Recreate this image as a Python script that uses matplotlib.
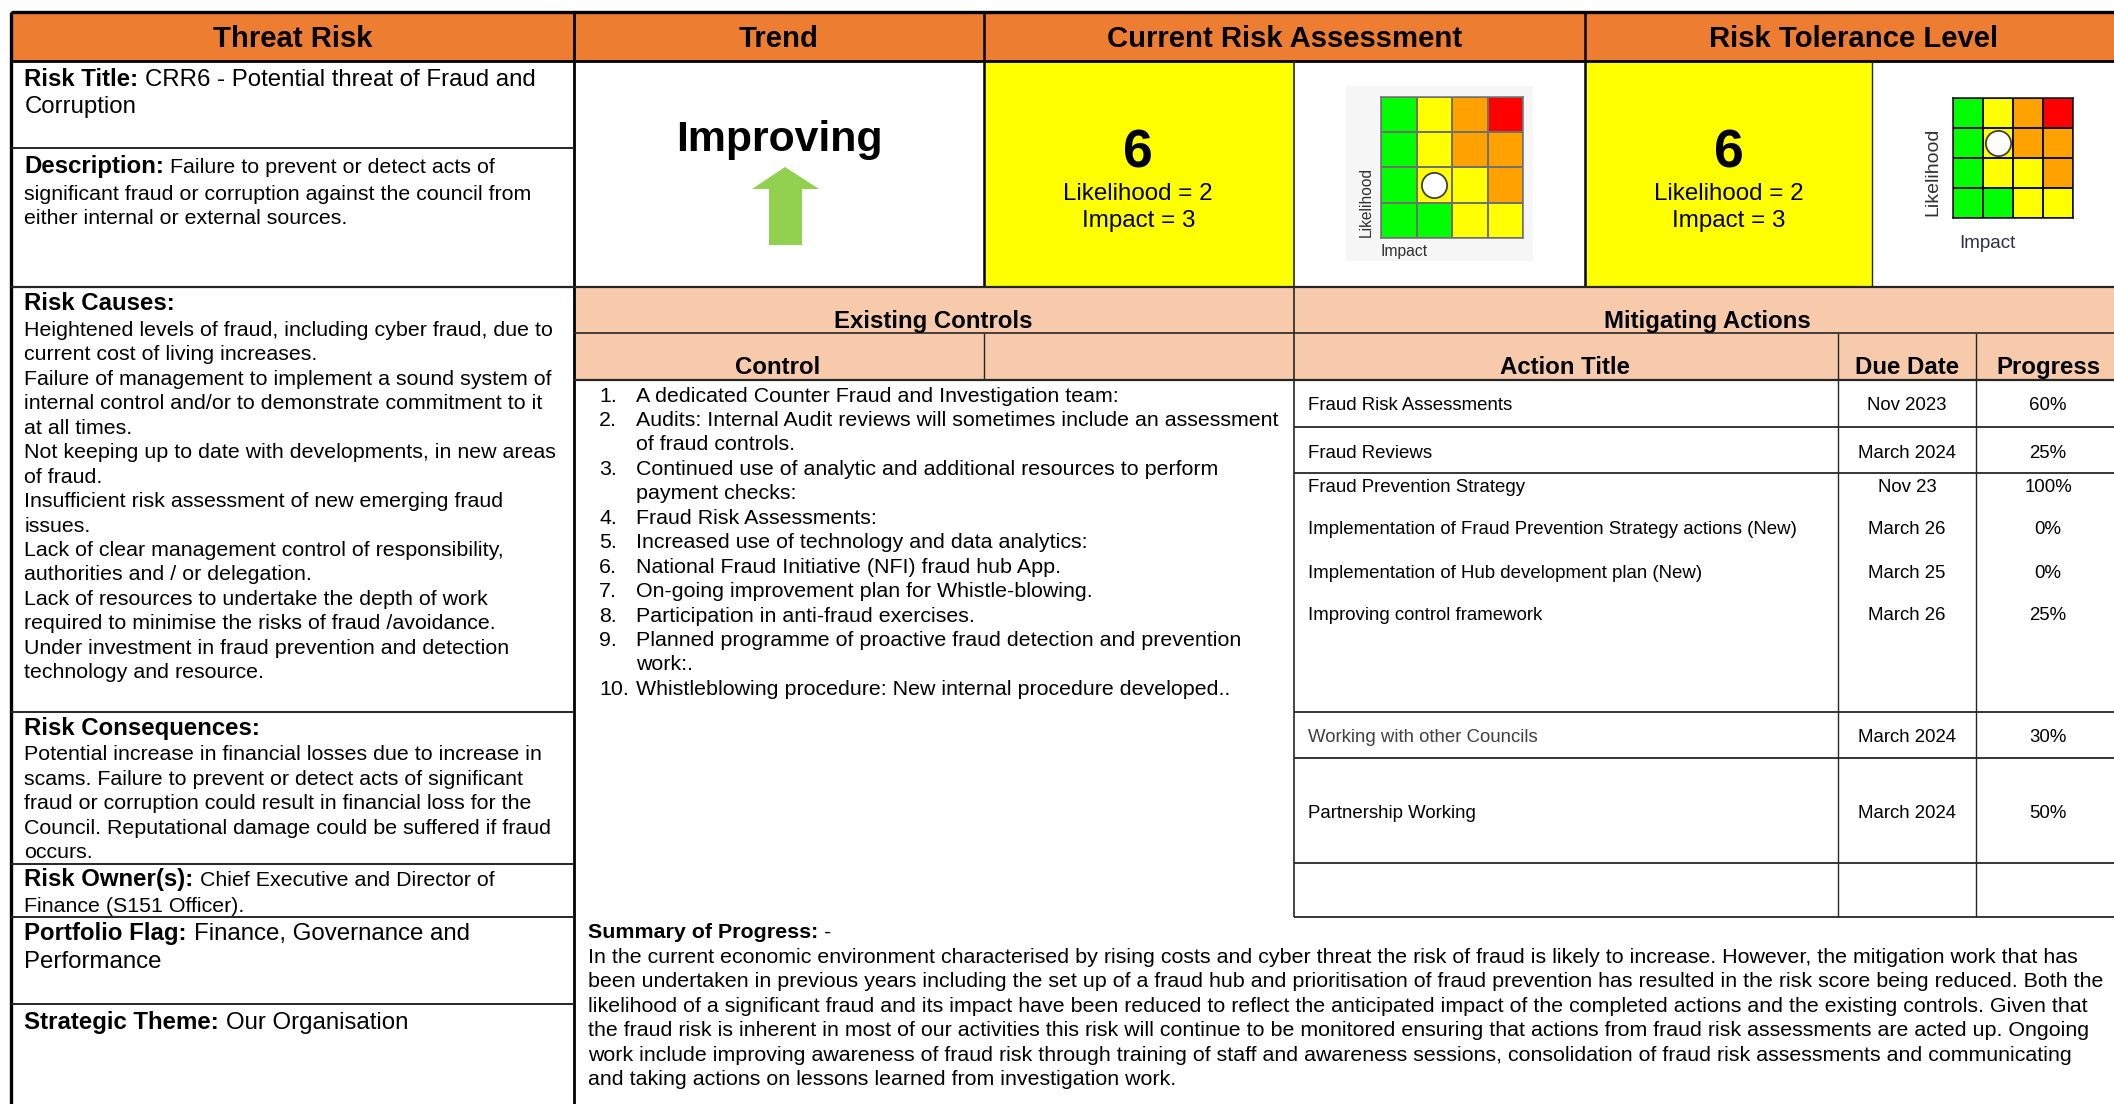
"""Threat risk summary sheet drawn as a table on one full-figure axes.

The axes runs in pixels of the output image, y pointing down.
"""

import matplotlib
matplotlib.use("Agg")
import matplotlib.pyplot as plt
import numpy as np
from matplotlib.colors import ListedColormap
from matplotlib.patches import Polygon, Rectangle

plt.rcParams["font.family"] = ["Liberation Sans", "DejaVu Sans"]

WIDTH, HEIGHT = 2114, 1104

# ---------------------------------------------------------------------------
# Data
# ---------------------------------------------------------------------------

HEADERS = ["Threat Risk", "Trend", "Current Risk Assessment", "Risk Tolerance Level"]
TREND = "Improving"

SCORE = 6
LIKELIHOOD = 2
IMPACT = 3

# 0 green, 1 yellow, 2 orange, 3 red; top row is the highest likelihood
MATRIX_LEVELS = [
    [0, 1, 2, 3],
    [0, 1, 2, 2],
    [0, 1, 1, 2],
    [0, 0, 1, 1],
]
MATRIX_COLOURS = ["#00FF00", "#FFFF00", "#FFA200", "#FF0000"]

# matrix cell (row, column) holding the white marker
CURRENT_CELL = (2, 1)
TOLERANCE_CELL = (1, 1)

RISK_TITLE = ["CRR6 - Potential threat of Fraud and", "Corruption"]
DESCRIPTION = [
    "Failure to prevent or detect acts of",
    "significant fraud or corruption against the council from",
    "either internal or external sources.",
]
RISK_CAUSES = [
    "Heightened levels of fraud, including cyber fraud, due to",
    "current cost of living increases.",
    "Failure of management to implement a sound system of",
    "internal control and/or to demonstrate commitment to it",
    "at all times.",
    "Not keeping up to date with developments, in new areas",
    "of fraud.",
    "Insufficient risk assessment of new emerging fraud",
    "issues.",
    "Lack of clear management control of responsibility,",
    "authorities and / or delegation.",
    "Lack of resources to undertake the depth of work",
    "required to minimise the risks of fraud /avoidance.",
    "Under investment in fraud prevention and detection",
    "technology and resource.",
]
RISK_CONSEQUENCES = [
    "Potential increase in financial losses due to increase in",
    "scams. Failure to prevent or detect acts of significant",
    "fraud or corruption could result in financial loss for the",
    "Council. Reputational damage could be suffered if fraud",
    "occurs.",
]
RISK_OWNERS = ["Chief Executive and Director of", "Finance (S151 Officer)."]
PORTFOLIO_FLAG = ["Finance, Governance and", "Performance"]
STRATEGIC_THEME = "Our Organisation"

CONTROLS = [
    ("1.", "A dedicated Counter Fraud and Investigation team:"),
    ("2.", "Audits: Internal Audit reviews will sometimes include an assessment"),
    ("", "of fraud controls."),
    ("3.", "Continued use of analytic and additional resources to perform"),
    ("", "payment checks:"),
    ("4.", "Fraud Risk Assessments:"),
    ("5.", "Increased use of technology and data analytics:"),
    ("6.", "National Fraud Initiative (NFI) fraud hub App."),
    ("7.", "On-going improvement plan for Whistle-blowing."),
    ("8.", "Participation in anti-fraud exercises."),
    ("9.", "Planned programme of proactive fraud detection and prevention"),
    ("", "work:."),
    ("10.", "Whistleblowing procedure: New internal procedure developed.."),
]

ACTION_TITLES = [
    "Fraud Risk Assessments",
    "Fraud Reviews",
    "Fraud Prevention Strategy",
    "Implementation of Fraud Prevention Strategy actions (New)",
    "Implementation of Hub development plan (New)",
    "Improving control framework",
    "Working with other Councils",
    "Partnership Working",
]
ACTION_DUE = [
    "Nov 2023", "March 2024", "Nov 23", "March 26",
    "March 25", "March 26", "March 2024", "March 2024",
]
ACTION_PROGRESS = [60, 25, 100, 0, 0, 25, 30, 50]

SUMMARY = [
    "In the current economic environment characterised by rising costs and cyber threat the risk of fraud is likely to increase. However, the mitigation work that has",
    "been undertaken in previous years including the set up of a fraud hub and prioritisation of fraud prevention has resulted in the risk score being reduced. Both the",
    "likelihood of a significant fraud and its impact have been reduced to reflect the anticipated impact of the completed actions and the existing controls. Given that",
    "the fraud risk is inherent in most of our activities this risk will continue to be monitored ensuring that actions from fraud risk assessments are acted up. Ongoing",
    "work include improving awareness of fraud risk through training of staff and awareness sessions, consolidation of fraud risk assessments and communicating",
    "and taking actions on lessons learned from investigation work.",
]

# ---------------------------------------------------------------------------
# Layout (pixels) and styles
# ---------------------------------------------------------------------------

LEFT, COL1, COL2, COL3, COL4, COL5 = 11, 574, 984, 1293.5, 1585, 1872
DUE_X, PROGRESS_X = 1838, 1976
TOP, HEAD_BOTTOM, MID, PEACH_MID, PEACH_BOTTOM = 12, 60.5, 286.5, 333, 380
ACTION_ROW_LINES = [427, 473, 712, 758, 863, 917]
ACTION_BASELINES = [409, 457, 491, 533, 577, 620, 742, 818]

ORANGE = "#ED7D31"
PEACH = "#F7CAAC"
YELLOW = "#FFFF00"
ARROW_GREEN = "#92D050"
DARK = "#262626"

FS_HEADER = 21.1
FS_SUB = 17.3
FS_SCORE = 17.4
FS_LARGE = 17.3
FS_LABEL = 17.3
FS_BODY = 15.4
FS_ACTION = 13.45
LEADING = 24.45


def rich_line(ax, x, y, bold, regular, size, bold_size=None):
    """Draw a bold label and carry on with regular text on the same baseline."""
    label = ax.text(x, y, bold, fontsize=bold_size or size, fontweight="bold",
                    va="baseline", color="black")
    box = label.get_window_extent(ax.figure.canvas.get_renderer())
    ax.text(box.x1 + size * 0.38, y, regular, fontsize=size, va="baseline",
            color="black")


def body_lines(ax, x, y, lines, size=FS_BODY, leading=LEADING):
    for i, line in enumerate(lines):
        ax.text(x, y + i * leading, line, fontsize=size, va="baseline",
                color="black")


def draw_matrix(ax, bounds, cell, line_colour):
    """Risk matrix in its own inset axes; bounds are pixels (x0, y0, x1, y1)."""
    x0, y0, x1, y1 = bounds
    inset = ax.figure.add_axes(
        [x0 / WIDTH, 1 - y1 / HEIGHT, (x1 - x0) / WIDTH, (y1 - y0) / HEIGHT])
    levels = np.array(MATRIX_LEVELS)
    inset.pcolormesh(levels, cmap=ListedColormap(MATRIX_COLOURS), vmin=0, vmax=3,
                     edgecolors=line_colour, linewidth=1.1)
    inset.set_ylim(len(levels), 0)
    inset.set_xticks([])
    inset.set_yticks([])
    for spine in inset.spines.values():
        spine.set_color(line_colour)
        spine.set_linewidth(1.1)
    inset.scatter([cell[1] + 0.5], [cell[0] + 0.5], s=330, c="white",
                  edgecolors="#404040", linewidths=1.3, zorder=5)
    return inset


def main():
    fig = plt.figure(figsize=(WIDTH / 100, HEIGHT / 100), dpi=100, facecolor="white")
    ax = fig.add_axes([0, 0, 1, 1])
    ax.set_xlim(0, WIDTH)
    ax.set_ylim(HEIGHT, 0)
    ax.axis("off")

    # Fills
    ax.add_patch(Rectangle((LEFT, TOP), WIDTH - LEFT, HEAD_BOTTOM - TOP, fc=ORANGE, ec="none"))
    ax.add_patch(Rectangle((COL2, HEAD_BOTTOM), COL3 - COL2, MID - HEAD_BOTTOM, fc=YELLOW, ec="none"))
    ax.add_patch(Rectangle((COL4, HEAD_BOTTOM), COL5 - COL4, MID - HEAD_BOTTOM, fc=YELLOW, ec="none"))
    ax.add_patch(Rectangle((COL1, MID), WIDTH - COL1, PEACH_BOTTOM - MID, fc=PEACH, ec="none"))

    # Grid lines
    ax.hlines([TOP], LEFT, WIDTH, colors="black", linewidth=2.4)
    ax.hlines([HEAD_BOTTOM], LEFT, WIDTH, colors="black", linewidth=2.0)
    ax.vlines([LEFT], TOP, HEIGHT, colors="black", linewidth=2.4)
    ax.vlines([COL1], TOP, HEIGHT, colors="black", linewidth=2.0)
    ax.vlines([COL2, COL4], TOP, MID, colors="black", linewidth=1.8)
    ax.vlines([COL3], HEAD_BOTTOM, ACTION_ROW_LINES[-1], colors=DARK, linewidth=1.2)
    ax.vlines([COL5], HEAD_BOTTOM, MID, colors=DARK, linewidth=1.0)
    ax.vlines([COL2], PEACH_MID, PEACH_BOTTOM, colors=DARK, linewidth=1.0)
    ax.vlines([DUE_X, PROGRESS_X], PEACH_MID, ACTION_ROW_LINES[-1], colors=DARK, linewidth=1.0)
    ax.hlines([MID], LEFT, WIDTH, colors=DARK, linewidth=1.6)
    ax.hlines([PEACH_MID], COL1, WIDTH, colors=DARK, linewidth=1.2)
    ax.hlines([PEACH_BOTTOM], COL1, WIDTH, colors=DARK, linewidth=1.6)
    ax.hlines(ACTION_ROW_LINES, COL3, WIDTH, colors=DARK, linewidth=1.3)
    ax.hlines([148, 712, 863.5, 917, 1004], LEFT, COL1, colors=DARK, linewidth=1.4)

    # Top headers
    header_x = [(LEFT + COL1) / 2, (COL1 + COL2) / 2, (COL2 + COL4) / 2, 1854]
    for x, label in zip(header_x, HEADERS):
        ax.text(x, 47, label, fontsize=FS_HEADER, fontweight="bold", ha="center", va="baseline")

    # Left column
    text_x = 24.5
    rich_line(ax, text_x, 86, "Risk Title:", RISK_TITLE[0], FS_LARGE)
    body_lines(ax, text_x, 113, RISK_TITLE[1:], FS_LARGE)
    rich_line(ax, text_x, 173, "Description:", DESCRIPTION[0], FS_BODY, FS_LABEL)
    body_lines(ax, text_x, 200, DESCRIPTION[1:], FS_BODY)
    ax.text(text_x, 310, "Risk Causes:", fontsize=FS_LABEL, fontweight="bold", va="baseline")
    body_lines(ax, text_x, 336, RISK_CAUSES)
    ax.text(text_x, 735, "Risk Consequences:", fontsize=FS_LABEL, fontweight="bold", va="baseline")
    body_lines(ax, text_x, 760.5, RISK_CONSEQUENCES)
    rich_line(ax, text_x, 886, "Risk Owner(s):", RISK_OWNERS[0], FS_BODY, FS_LABEL)
    body_lines(ax, text_x, 912, RISK_OWNERS[1:], FS_BODY)
    rich_line(ax, text_x, 940, "Portfolio Flag:", PORTFOLIO_FLAG[0], FS_LARGE)
    body_lines(ax, text_x, 968, PORTFOLIO_FLAG[1:], FS_LARGE)
    rich_line(ax, text_x, 1029, "Strategic Theme:", STRATEGIC_THEME, FS_LARGE)

    # Trend cell
    centre = (COL1 + COL2) / 2
    ax.text(centre, 151.5, TREND, fontsize=30.8, fontweight="bold", ha="center", va="baseline")
    ax.add_patch(Polygon(
        [(785, 167), (819, 189), (802, 189), (802, 245), (769, 245), (769, 189), (752, 189)],
        closed=True, fc=ARROW_GREEN, ec="none"))

    # Score cells
    for x in [(COL2 + COL3) / 2 - 0.5, (COL4 + COL5) / 2]:
        ax.text(x, 167, str(SCORE), fontsize=38.5, fontweight="bold", ha="center", va="baseline")
        ax.text(x, 200.5, f"Likelihood = {LIKELIHOOD}", fontsize=FS_SCORE, ha="center", va="baseline")
        ax.text(x, 227.5, f"Impact = {IMPACT}", fontsize=FS_SCORE, ha="center", va="baseline")

    # Matrices
    ax.add_patch(Rectangle((1346, 86), 187, 175, fc="#F6F6F6", ec="none"))
    draw_matrix(ax, (1381, 97, 1523, 238), CURRENT_CELL, "#707070")
    ax.text(1366, 202, "Likelihood", fontsize=11.2, rotation=90, ha="center", va="center", color="#303030")
    ax.text(1381, 256, "Impact", fontsize=11.3, ha="left", va="baseline", color="#303030")
    draw_matrix(ax, (1953, 98, 2073, 218), TOLERANCE_CELL, "#101010")
    ax.text(1933, 172, "Likelihood", fontsize=14, rotation=90, ha="center", va="center", color="#303030")
    ax.text(1987.5, 248, "Impact", fontsize=13.6, ha="center", va="baseline", color="#303040")

    # Controls
    ax.text(933, 328, "Existing Controls", fontsize=FS_SUB, fontweight="bold", ha="center", va="baseline")
    ax.text(778, 374, "Control", fontsize=FS_SUB, fontweight="bold", ha="center", va="baseline")
    for i, (number, line) in enumerate(CONTROLS):
        y = 401.5 + i * LEADING
        ax.text(599, y, number, fontsize=FS_BODY, va="baseline")
        ax.text(636, y, line, fontsize=FS_BODY, va="baseline")

    # Mitigating actions
    ax.text(1707, 328, "Mitigating Actions", fontsize=FS_SUB, fontweight="bold", ha="center", va="baseline")
    ax.text(1565, 374, "Action Title", fontsize=FS_SUB, fontweight="bold", ha="center", va="baseline")
    ax.text(1907, 374, "Due Date", fontsize=FS_SUB, fontweight="bold", ha="center", va="baseline")
    ax.text(2048, 374, "Progress", fontsize=FS_SUB, fontweight="bold", ha="center", va="baseline")
    for i, y in enumerate(ACTION_BASELINES):
        colour = "#404040" if ACTION_TITLES[i].startswith("Working") else "black"
        ax.text(1308, y + 0.5, ACTION_TITLES[i], fontsize=FS_ACTION, va="baseline", color=colour)
        ax.text(1907, y + 0.5, ACTION_DUE[i], fontsize=FS_ACTION, ha="center", va="baseline")
        ax.text(2048, y + 0.5, f"{ACTION_PROGRESS[i]}%", fontsize=FS_ACTION, ha="center", va="baseline")

    # Summary
    rich_line(ax, 588, 938, "Summary of Progress:", "-", FS_BODY)
    body_lines(ax, 588, 963, SUMMARY)

    fig.savefig("out.png", dpi=100)
    plt.close(fig)


if __name__ == "__main__":
    main()
